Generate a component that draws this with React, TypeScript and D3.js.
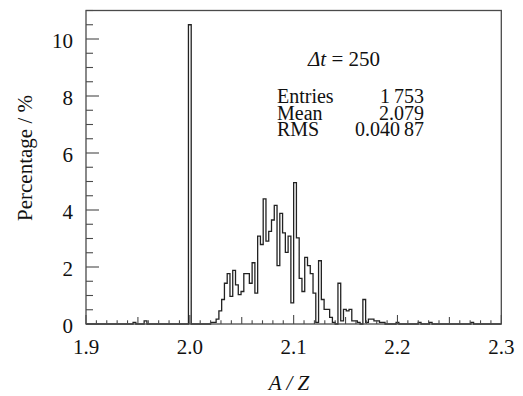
import * as d3 from "d3";

// histogram of A/Z, 150 bins from 1.9 to 2.3, values in percent
const xRange = [1.9, 2.3];
const binPercent = [
  0, 0, 0, 0, 0, 0, 0, 0, 0, 0,
  0, 0, 0, 0, 0, 0, 0, 0.06, 0, 0,
  0, 0.11, 0, 0, 0, 0, 0, 0, 0, 0,
  0, 0, 0, 0, 0, 0, 0, 10.5, 0, 0,
  0, 0, 0, 0, 0, 0.06, 0.06, 0.17, 0.46, 0.86,
  1.43, 1.77, 0.97, 1.88, 1.37, 1.03, 1.14, 1.77, 1.77, 1.43,
  2.15, 1.08, 3.08, 2.79, 4.39, 2.91, 3.25, 3.65, 4.16, 2.05,
  3.88, 3.2, 2.51, 3.08, 0.74, 4.96, 3.02, 1.6, 1.14, 2.34,
  2.05, 1.77, 1.08, 0.06, 2.22, 0.86, 0.51, 0.51, 0.23, 0.06,
  0, 1.43, 0.11, 0.51, 0.46, 0.51, 0.11, 0.11, 0.06, 0,
  0.86, 0.06, 0.17, 0.17, 0.11, 0.11, 0.06, 0.06, 0, 0,
  0, 0, 0.06, 0, 0, 0, 0, 0, 0, 0,
  0.06, 0, 0, 0, 0.06, 0, 0, 0, 0, 0,
  0, 0, 0, 0, 0, 0, 0, 0, 0, 0.06,
  0, 0, 0, 0, 0, 0, 0, 0, 0, 0,
];
const xTickLabels = ["1.9", "2.0", "2.1", "2.2", "2.3"];
const yTickLabels = [0, 2, 4, 6, 8, 10];
const statsLabels = ["Entries", "Mean", "RMS"];
const statsValues = ["1\u2009753", "2.079", "0.040\u200987"];

const W = 523;
const H = 396;
const FONT = "'Liberation Serif', 'Times New Roman', serif";
const INK = "#111";
const AXIS = "#4a4a4a";

export default function App() {
  const x = d3.scaleLinear().domain(xRange).range([86, 501.3]);
  const y = d3.scaleLinear().domain([0, 11]).range([324, 10.5]);

  const binW = (xRange[1] - xRange[0]) / binPercent.length;
  const pts: [number, number][] = [[xRange[0], 0]];
  binPercent.forEach((v, i) => pts.push([xRange[0] + i * binW, v]));
  pts.push([xRange[1], binPercent[binPercent.length - 1]]);

  const line = d3
    .line<[number, number]>()
    .x((d) => x(d[0]))
    .y((d) => y(d[1]))
    .curve(d3.curveStepAfter);

  // tick positions
  const yMinor = d3.range(0, 11.01, 0.5);
  const xMinor = d3.range(0, 41).map((i) => xRange[0] + i * 0.01);

  return (
    <svg
      width={W}
      height={H}
      style={{ position: "absolute", left: 0, top: 0, background: "#fff" }}
      fontFamily={FONT}
    >
      {/* histogram */}
      <path d={line(pts) ?? ""} fill="none" stroke="#222" strokeWidth={1.3} />

      {/* frame */}
      <rect
        x={x(xRange[0])}
        y={y(11)}
        width={x(xRange[1]) - x(xRange[0])}
        height={y(0) - y(11)}
        fill="none"
        stroke={AXIS}
        strokeWidth={1.3}
      />

      {/* y ticks */}
      {yMinor.map((v, i) => {
        const major = Math.abs(v % 2) < 1e-6;
        return (
          <line
            key={"yt" + i}
            x1={x(xRange[0])}
            x2={x(xRange[0]) + (major ? 13 : 7)}
            y1={y(v)}
            y2={y(v)}
            stroke={AXIS}
            strokeWidth={1.1}
          />
        );
      })}
      {yTickLabels.map((v) => (
        <text key={"yl" + v} x={73} y={y(v) + 8.5} textAnchor="end" fontSize={21} fill={INK}>
          {v}
        </text>
      ))}

      {/* x ticks */}
      {xMinor.map((v, i) => {
        const len = i % 10 === 0 ? 9 : i % 5 === 0 ? 7 : 3.7;
        return (
          <line
            key={"xt" + i}
            x1={x(v)}
            x2={x(v)}
            y1={y(0)}
            y2={y(0) - len}
            stroke={AXIS}
            strokeWidth={1.1}
          />
        );
      })}
      {xTickLabels.map((s) => (
        <text key={"xl" + s} x={x(+s)} y={354} textAnchor="middle" fontSize={21} fill={INK}>
          {s}
        </text>
      ))}

      {/* axis titles */}
      <text transform="translate(32,158) rotate(-90)" textAnchor="middle" fontSize={21} fill={INK}>
        Percentage / %
      </text>
      <text x={289} y={390} textAnchor="middle" fontSize={21} fontStyle="italic" fill={INK}>
        A / Z
      </text>

      {/* annotation and stats */}
      <text x={308} y={66} fontSize={21} fill={INK}>
        <tspan fontStyle="italic">Δt</tspan> = 250
      </text>
      {statsLabels.map((s, i) => (
        <text key={"sl" + s} x={277} y={103 + i * 16.5} fontSize={20} fill={INK}>
          {s}
        </text>
      ))}
      {statsValues.map((s, i) => (
        <text key={"sv" + i} x={424} y={103 + i * 16.5} textAnchor="end" fontSize={20} fill={INK}>
          {s}
        </text>
      ))}
    </svg>
  );
}
